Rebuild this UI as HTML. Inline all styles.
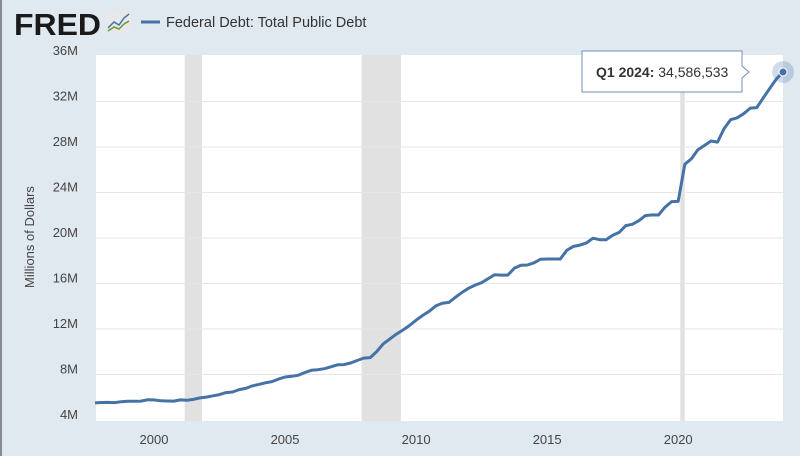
<!DOCTYPE html>
<html><head><meta charset="utf-8"><style>
body{margin:0;width:800px;height:456px;overflow:hidden;background:#e1e9f0;font-family:"Liberation Sans",sans-serif;}
#wrap{position:relative;width:800px;height:456px;overflow:hidden;}
svg{display:block;}
</style></head><body>
<div id="wrap">
<svg id="chart" width="800" height="456">
<rect x="0" y="0" width="2" height="456" fill="#8a8a8a"/>
<g>
<text x="14" y="35" font-size="31" font-weight="bold" fill="#1a1a1a" textLength="87" lengthAdjust="spacingAndGlyphs">FRED</text>
<rect x="106" y="12" width="25" height="22" rx="2" fill="#e8e8e8"/>
<polyline points="108,28 114,22 119,25 124,18 129,14" fill="none" stroke="#4572a7" stroke-width="1.5"/>
<polyline points="108,31 114,27 119,29 124,24 129,21" fill="none" stroke="#6a9a3c" stroke-width="1.5"/>
</g>
<g>
<line x1="141" y1="22" x2="160" y2="22" stroke="#4572a7" stroke-width="3"/>
<text x="166" y="27" font-size="14.5" fill="#333">Federal Debt: Total Public Debt</text>
</g>
<rect x="96" y="55" width="687" height="366" fill="#fff"/>
<g id="rec"></g><g id="grid"></g><g id="yt"></g><g id="xt"></g>
<text transform="translate(34,237) rotate(-90)" text-anchor="middle" font-size="13" fill="#444">Millions of Dollars</text>
<path id="line" fill="none" stroke="#4572a7" stroke-width="3" stroke-linejoin="round"/>
<circle id="halo" r="11" fill="#4572a7" fill-opacity="0.25"/>
<circle id="dot" r="4" fill="#4572a7" stroke="#fff" stroke-width="1"/>
<g>
<path d="M582,51 H742 V66 L749,72 L742,78 V92 H582 Z" fill="#fff" stroke="#6f8fb8" stroke-width="1"/>
<text x="596" y="77" font-size="14" fill="#333"><tspan font-weight="bold">Q1 2024:</tspan> 34,586,533</text>
</g>
</svg>
</div>
<script>
const startYear = 1997.75;
const values = [5.50,
5.54,5.55,5.53,5.61, 5.65,5.64,5.66,5.78, 5.77,5.69,5.67,5.66, 5.77,5.73,5.81,5.94,
6.01,6.13,6.23,6.41, 6.46,6.67,6.78,7.00, 7.13,7.27,7.38,7.60, 7.78,7.84,7.93,8.17,
8.37,8.42,8.51,8.68, 8.85,8.87,9.01,9.23, 9.44,9.49,10.02,10.70, 11.13,11.55,11.91,12.31,
12.77,13.20,13.56,14.03, 14.27,14.34,14.79,15.22, 15.58,15.86,16.07,16.43, 16.77,16.74,16.74,17.35,
17.60,17.63,17.82,18.14, 18.15,18.15,18.15,18.92, 19.26,19.38,19.57,19.98, 19.85,19.84,20.24,20.49,
21.09,21.20,21.52,21.97, 22.03,22.02,22.72,23.20, 23.22,26.48,26.95,27.75, 28.13,28.53,28.43,29.62,
30.40,30.57,30.93,31.42, 31.46,32.33,33.17,34.00, 34.59];
const yTicks = [4,8,12,16,20,24,28,32,36];
const xTicks = [2000,2005,2010,2015,2020];
const recStart = [2001.17,2007.92,2020.08];
const recEnd = [2001.83,2009.42,2020.25];
const NS='http://www.w3.org/2000/svg';
const xs = t => 154 + (t-2000)*26.21;
const ys = v => 420 - (v-4)*11.375;
function mk(tag, attrs, parent){const e=document.createElementNS(NS,tag);for(const k in attrs)e.setAttribute(k,attrs[k]);document.getElementById(parent).appendChild(e);return e;}
recStart.forEach((s,i)=>{const r=mk('rect',{x:xs(s),y:55,width:xs(recEnd[i])-xs(s),height:366,fill:'#e1e1e1'},'rec');

});
yTicks.forEach(v=>{
 if(v>4 && v<36){const l=mk('line',{x1:96,x2:783,y1:ys(v),y2:ys(v),stroke:'#e6e6e6','stroke-width':1},'grid');
 
 }
 const t=mk('text',{x:78,y:ys(v)-1,'text-anchor':'end','font-size':13,fill:'#444'},'yt');
 t.textContent=v+'M';
 
 
});
xTicks.forEach(y=>{const t=mk('text',{x:xs(y),y:444,'text-anchor':'middle','font-size':13,fill:'#444'},'xt');
 t.textContent=y;
 
 });
let d='';values.forEach((v,i)=>{d+=(i?'L':'M')+xs(startYear+i*0.25).toFixed(1)+','+ys(v).toFixed(1);});
document.getElementById('line').setAttribute('d',d);
const lx=xs(startYear+(values.length-1)*0.25), ly=ys(values[values.length-1]);
['halo','dot'].forEach(id=>{const c=document.getElementById(id);c.setAttribute('cx',lx);c.setAttribute('cy',ly);});
</script>
</body></html>
